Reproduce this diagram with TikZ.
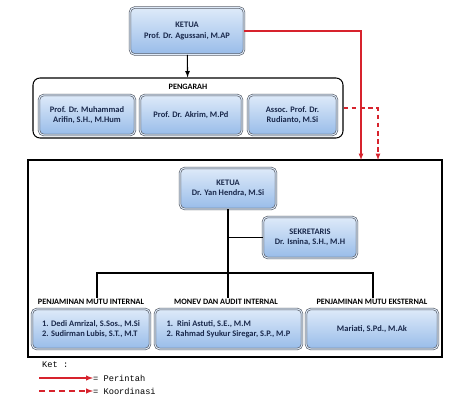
\documentclass[tikz,border=0pt]{standalone}
\usepackage{fontspec}
\setmainfont{Carlito}
\newfontfamily\legendfont{Liberation Mono}
\usetikzlibrary{positioning,calc}
\definecolor{boxtopblue}{RGB}{222, 234, 249}
\definecolor{boxbottomblue}{RGB}{152, 188, 233}
\definecolor{boxborder}{RGB}{75, 80, 90}
\definecolor{boxtext}{RGB}{25, 40, 75}
\definecolor{orderred}{RGB}{215, 35, 45}

\begin{document}
\begin{tikzpicture}[x=0.03cm, y=-0.03cm,
personnode/.style={rounded corners=4pt, draw=boxborder, double=boxtopblue, double distance=0.9pt, top color=boxtopblue, bottom color=boxbottomblue, line width=0.5pt, font=\bfseries\fontsize{7.2}{8.8}\selectfont, text=boxtext, align=center, inner sep=1pt},
person_substain/.style={rounded corners=6pt, draw=black, line width=0.9pt, fill=white},
unit_substain/.style={rectangle, draw=black, line width=0.9pt, fill=white},
unitlabel/.style={font=\bfseries\fontsize{7}{8}\selectfont, text=black, inner sep=1pt},
line/.style={line width=1pt, black},
arrow/.style={-latex, line width=0.9pt},
perintah/.style={-latex, line width=0.9pt, orderred},
koordinasi/.style={-latex, line width=0.9pt, orderred, dash pattern=on 4pt off 3pt},
legendtext/.style={font=\legendfont\fontsize{7.4}{8}\selectfont, inner sep=0pt, anchor=west}
]
\useasboundingbox (0,0) rectangle (474,402);

%Nodes
%Nodes top
\node[personnode, minimum width=3.42cm, minimum height=1.41cm] 	(ketua_top) at (187,31) {KETUA\\Prof. Dr. Agussani, M.AP};

%Nodes pengarah
\node[person_substain, minimum width=9.3cm, minimum height=1.8cm] 	(pengarah_substain) at (188,108) {};
\node[unitlabel] 													(pengarah_label) at (188,87) {PENGARAH};
\node[personnode, minimum width=2.88cm, minimum height=1.2cm] 		(pengarah_node_1) at (87,115) {Prof. Dr. Muhammad\\Arifin, S.H., M.Hum};
\node[personnode, minimum width=3.06cm, minimum height=1.2cm] 		(pengarah_node_2) at (191,115) {Prof. Dr. Akrim, M.Pd};
\node[personnode, minimum width=2.67cm, minimum height=1.2cm] 		(pengarah_node_3) at (292.5,115) {Assoc. Prof. Dr.\\Rudianto, M.Si};

%Nodes unit
\node[unit_substain, minimum width=12.42cm, minimum height=5.91cm] 	(unit_substain) at (235,258.5) {};
\node[personnode, minimum width=2.88cm, minimum height=1.23cm] 		(ketua_unit) at (228,188.5) {KETUA\\Dr. Yan Hendra, M.Si};
\node[personnode, minimum width=2.82cm, minimum height=1.23cm] 		(sekretaris) at (310,237.5) {SEKRETARIS\\Dr. Isnina, S.H., M.H};

\node[unitlabel] 													(label_internal) at (91,302) {PENJAMINAN MUTU INTERNAL};
\node[unitlabel] 													(label_monev) at (226,302) {MONEV DAN AUDIT INTERNAL};
\node[unitlabel] 													(label_eksternal) at (372,302) {PENJAMINAN MUTU EKSTERNAL};

\node[personnode, align=left, minimum width=3.54cm, minimum height=1.2cm] 	(member_internal) at (91,329) {1. Dedi Amrizal, S.Sos., M.Si\\2. Sudirman Lubis, S.T., M.T};
\node[personnode, align=left, minimum width=4.41cm, minimum height=1.2cm] 	(member_monev) at (228.5,329) {1.\ \ Rini Astuti, S.E., M.M\\2. Rahmad Syukur Siregar, S.P., M.P};
\node[personnode, minimum width=3.96cm, minimum height=1.2cm] 		(member_eksternal) at (372,329) {Mariati, S.Pd., M.Ak};

%Coordinates
\coordinate (perintah_end) at (361,160);
\coordinate (koordinasi_end) at (378,160);
\coordinate (bus_left) at (97,273);
\coordinate (bus_right) at (373,273);

%Arrow
%Arrow from top to pengarah and unit
\draw [arrow] (ketua_top) -- (pengarah_substain);
\draw [perintah] (ketua_top.east) -| (perintah_end);
\draw [koordinasi] (pengarah_substain.east) -| (koordinasi_end);

%Lines inside unit
\draw [line] (ketua_unit) -- (label_monev.north -| ketua_unit.south);
\draw [line] (ketua_unit.south |- sekretaris.west) -- (sekretaris);
\draw [line] (bus_left |- label_internal.north) -- (bus_left) -- (bus_right) -- (bus_right |- label_eksternal.north);

%Legend
\node[legendtext] 						(ket) at (42,365) {Ket :};
\coordinate (perintah_start) at (39,378);
\node[legendtext] 						(perintah_text) at (93,378) {= Perintah};
\coordinate (koordinasi_start) at (39,391);
\node[legendtext] 						(koordinasi_text) at (93,391) {= Koordinasi};
\draw [perintah, line width=1pt] (perintah_start) -- (perintah_text.west);
\draw [koordinasi, line width=1pt, dash pattern=on 5pt off 3.5pt] (koordinasi_start) -- (koordinasi_text.west);

\end{tikzpicture}
\end{document}
